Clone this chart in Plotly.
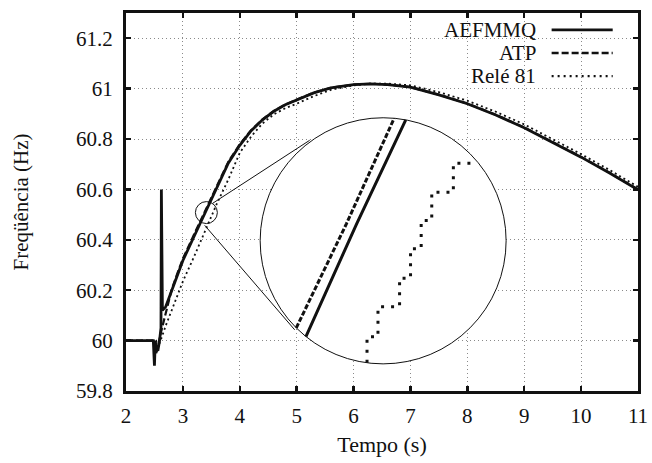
import math
import plotly.graph_objects as go

# ---------------- data ----------------
time_aefmmq = [2.0, 2.48, 2.50, 2.515, 2.53, 2.56, 2.59, 2.615, 2.622, 2.64, 2.70,
               2.8, 2.9, 3.0, 3.2, 3.4, 3.6, 3.8, 4.0, 4.2, 4.4, 4.6, 4.8, 5.0,
               5.3, 5.6, 6.0, 6.3, 6.6, 7.0, 7.5, 8.0, 8.5, 9.0, 9.5, 10.0, 10.5, 11.0]
freq_aefmmq = [60.0, 60.0, 59.90, 60.0, 59.97, 59.96, 60.0, 60.05, 60.60, 60.12, 60.135,
               60.197, 60.258, 60.318, 60.415, 60.512, 60.61, 60.705, 60.775, 60.833, 60.876,
               60.91, 60.936, 60.956, 60.983, 61.003, 61.016, 61.019, 61.016, 61.006,
               60.975, 60.94, 60.895, 60.845, 60.788, 60.728, 60.665, 60.598]

time_atp = [2.0, 2.5, 2.53, 2.56, 2.6, 2.7, 2.8, 2.9, 3.0, 3.2, 3.4, 3.6, 3.8, 4.0,
            4.2, 4.4, 4.6, 4.8, 5.0, 5.3, 5.6, 6.0, 6.3, 6.6, 7.0, 7.5, 8.0, 8.5,
            9.0, 9.5, 10.0, 10.5, 11.0]
freq_atp = [60.0, 60.0, 59.95, 59.97, 60.02, 60.11, 60.2, 60.265, 60.325, 60.423, 60.52,
            60.617, 60.71, 60.779, 60.835, 60.878, 60.911, 60.937, 60.957, 60.984, 61.003,
            61.016, 61.019, 61.016, 61.006, 60.976, 60.941, 60.896, 60.846, 60.789,
            60.729, 60.666, 60.6]

time_rele = [2.0, 2.53, 2.56, 2.6, 2.7, 2.8, 2.9, 3.0, 3.2, 3.4, 3.6, 3.8, 4.0, 4.2,
             4.4, 4.6, 4.8, 5.0, 5.3, 5.6, 6.0, 6.3, 6.6, 7.0, 7.5, 8.0, 8.5, 9.0,
             9.5, 10.0, 10.5, 11.0]
freq_rele = [60.0, 60.0, 59.975, 59.995, 60.06, 60.12, 60.18, 60.235, 60.335, 60.44,
             60.545, 60.64, 60.745, 60.81, 60.862, 60.898, 60.922, 60.94, 60.97, 60.995,
             61.013, 61.02, 61.02, 61.013, 60.986, 60.952, 60.908, 60.858, 60.8, 60.74,
             60.677, 60.61]

# zoomed detail around t = 3.41 s (magnified inset)
zoom_time_atp = [3.2725, 3.3555, 3.4343]
zoom_freq_atp = [60.4752, 60.5141, 60.5534]
zoom_time_aefmmq = [3.2881, 3.3716, 3.4538]
zoom_freq_aefmmq = [60.4722, 60.5141, 60.5534]
zoom_time_rele = [3.3685, 3.3877, 3.4049, 3.4388, 3.4560, 3.4727, 3.4893, 3.5232, 3.5533]
zoom_freq_rele = [60.4638, 60.4740, 60.4846, 60.4947, 60.5052, 60.5152, 60.5252, 60.5355, 60.5355]

x_ticks = [2, 3, 4, 5, 6, 7, 8, 9, 10, 11]
y_ticks = [59.8, 60.0, 60.2, 60.4, 60.6, 60.8, 61.0, 61.2]
legend_names = ["AEFMMQ", "ATP", "Relé 81"]

# ---------------- geometry of the magnifier ----------------
X_RANGE = [2, 11]
Y_RANGE = [59.8, 61.3]
small_c = (3.413, 60.508)
small_r = (0.193, 0.0436)
MAG = 11.2
big_c = (6.52, 60.396)
big_r = (small_r[0] * MAG, small_r[1] * MAG)


def step_hv(xs, ys):
    ox, oy = [xs[0]], [ys[0]]
    for i in range(1, len(xs)):
        ox += [xs[i], xs[i]]
        oy += [ys[i - 1], ys[i]]
    return ox, oy


def clip_ellipse(xs, ys, c, r):
    ox, oy = [], []
    last_end = None
    for i in range(len(xs) - 1):
        x0, y0, x1, y1 = xs[i], ys[i], xs[i + 1], ys[i + 1]
        u0, v0 = (x0 - c[0]) / r[0], (y0 - c[1]) / r[1]
        du, dv = (x1 - x0) / r[0], (y1 - y0) / r[1]
        a = du * du + dv * dv
        if a == 0:
            continue
        b = 2 * (u0 * du + v0 * dv)
        cc = u0 * u0 + v0 * v0 - 1
        disc = b * b - 4 * a * cc
        if disc <= 0:
            last_end = None
            continue
        s = math.sqrt(disc)
        ta = max(0.0, (-b - s) / (2 * a))
        tb = min(1.0, (-b + s) / (2 * a))
        if ta >= tb:
            last_end = None
            continue
        pa = (x0 + ta * (x1 - x0), y0 + ta * (y1 - y0))
        pb = (x0 + tb * (x1 - x0), y0 + tb * (y1 - y0))
        if last_end is not None and ta == 0.0:
            ox.append(pb[0]); oy.append(pb[1])
        else:
            if ox:
                ox.append(None); oy.append(None)
            ox += [pa[0], pb[0]]; oy += [pa[1], pb[1]]
        last_end = pb if tb == 1.0 else None
    return ox, oy


FONT = "Liberation Serif, Times New Roman, serif"
BLACK = "#111111"

fig = go.Figure()

# main curves
fig.add_trace(go.Scatter(x=time_atp, y=freq_atp, mode="lines", name=legend_names[1],
                         line=dict(color=BLACK, width=2.2, dash="7px,3px")))
fig.add_trace(go.Scatter(x=time_rele, y=freq_rele, mode="lines", name=legend_names[2],
                         line=dict(color=BLACK, width=1.8, dash="2px,3px")))
fig.add_trace(go.Scatter(x=time_aefmmq, y=freq_aefmmq, mode="lines", name=legend_names[0],
                         line=dict(color=BLACK, width=2.8)))

# inset curves (on a magnified pair of axes placed over the big circle)
ax, ay = clip_ellipse(zoom_time_atp, zoom_freq_atp, small_c, small_r)
fig.add_trace(go.Scatter(x=ax, y=ay, mode="lines", xaxis="x2", yaxis="y2",
                         line=dict(color=BLACK, width=3, dash="5px,2px")))
sx, sy = clip_ellipse(zoom_time_aefmmq, zoom_freq_aefmmq, small_c, small_r)
fig.add_trace(go.Scatter(x=sx, y=sy, mode="lines", xaxis="x2", yaxis="y2",
                         line=dict(color=BLACK, width=3)))
rx_, ry_ = step_hv(zoom_time_rele, zoom_freq_rele)
rx_, ry_ = clip_ellipse(rx_, ry_, small_c, small_r)
fig.add_trace(go.Scatter(x=rx_, y=ry_, mode="lines", xaxis="x2", yaxis="y2",
                         line=dict(color=BLACK, width=3, dash="3px,7px")))

for tr in fig.data:
    tr.showlegend = False
    tr.hoverinfo = "skip"

shapes = []
# big circle (white fill hides grid)
shapes.append(dict(type="circle", xref="x", yref="y", layer="between",
                   x0=big_c[0] - big_r[0], x1=big_c[0] + big_r[0],
                   y0=big_c[1] - big_r[1], y1=big_c[1] + big_r[1],
                   fillcolor="white", line=dict(color=BLACK, width=1)))
# small circle
shapes.append(dict(type="circle", xref="x", yref="y", layer="above",
                   x0=small_c[0] - small_r[0], x1=small_c[0] + small_r[0],
                   y0=small_c[1] - small_r[1], y1=small_c[1] + small_r[1],
                   line=dict(color=BLACK, width=1)))
# connecting lines
shapes.append(dict(type="line", xref="x", yref="y", layer="above",
                   x0=3.5237, y0=60.5448, x1=5.2285, y1=60.7948,
                   line=dict(color=BLACK, width=1)))
shapes.append(dict(type="line", xref="x", yref="y", layer="above",
                   x0=3.3831, y0=60.4575, x1=4.9649, y1=60.0429,
                   line=dict(color=BLACK, width=1)))

# manual gnuplot-style legend (text right, sample at right)
leg_y = [0.9555, 0.8942, 0.8330]
leg_dash = ["solid", "7px,3px", "2px,4px"]
leg_w = [2.8, 2.4, 2.2]
annotations = []
for name, yy, dsh, w in zip(legend_names, leg_y, leg_dash, leg_w):
    annotations.append(dict(xref="paper", yref="paper", x=0.804, y=yy, text=name,
                            showarrow=False, xanchor="right", yanchor="middle",
                            font=dict(family=FONT, size=21, color=BLACK)))
    shapes.append(dict(type="line", xref="paper", yref="paper", layer="above",
                       x0=0.8313, x1=0.9506, y0=yy, y1=yy,
                       line=dict(color=BLACK, width=w, dash=dsh)))

axis_common = dict(showline=True, linecolor=BLACK, linewidth=3, mirror="allticks",
                   ticks="inside", ticklen=5, tickwidth=2.5, tickcolor=BLACK,
                   showgrid=True, gridcolor="#8a8a8a", gridwidth=1, griddash="1px,3px",
                   zeroline=False, tickfont=dict(family=FONT, size=21, color=BLACK),
                   automargin=False)

dom_x = [(big_c[0] - big_r[0] - X_RANGE[0]) / (X_RANGE[1] - X_RANGE[0]),
         (big_c[0] + big_r[0] - X_RANGE[0]) / (X_RANGE[1] - X_RANGE[0])]
dom_y = [(big_c[1] - big_r[1] - Y_RANGE[0]) / (Y_RANGE[1] - Y_RANGE[0]),
         (big_c[1] + big_r[1] - Y_RANGE[0]) / (Y_RANGE[1] - Y_RANGE[0])]

fig.update_layout(
    width=652, height=463,
    margin=dict(l=126, r=14, t=13, b=72, autoexpand=False),
    paper_bgcolor="white", plot_bgcolor="rgba(0,0,0,0)",
    font=dict(family=FONT, color=BLACK),
    hovermode=False,
    xaxis=dict(range=X_RANGE, tickvals=x_ticks, ticktext=[str(v) for v in x_ticks],
               ticklabelstandoff=4,
               title=dict(text="Tempo (s)", font=dict(family=FONT, size=22, color=BLACK),
                          standoff=10), **axis_common),
    yaxis=dict(range=Y_RANGE, tickvals=y_ticks,
               ticktext=[("%g" % v) for v in y_ticks], ticklabelstandoff=6,
               title=dict(text="Freqüência (Hz)", font=dict(family=FONT, size=21, color=BLACK),
                          standoff=42), **axis_common),
    xaxis2=dict(domain=dom_x, range=[small_c[0] - small_r[0], small_c[0] + small_r[0]],
                visible=False, anchor="y2"),
    yaxis2=dict(domain=dom_y, range=[small_c[1] - small_r[1], small_c[1] + small_r[1]],
                visible=False, anchor="x2"),
    shapes=shapes, annotations=annotations, showlegend=False,
)

fig.write_html("out.html", config={"displayModeBar": False, "staticPlot": True},
               post_script="document.body.style.margin='0';document.body.style.padding='0';")
